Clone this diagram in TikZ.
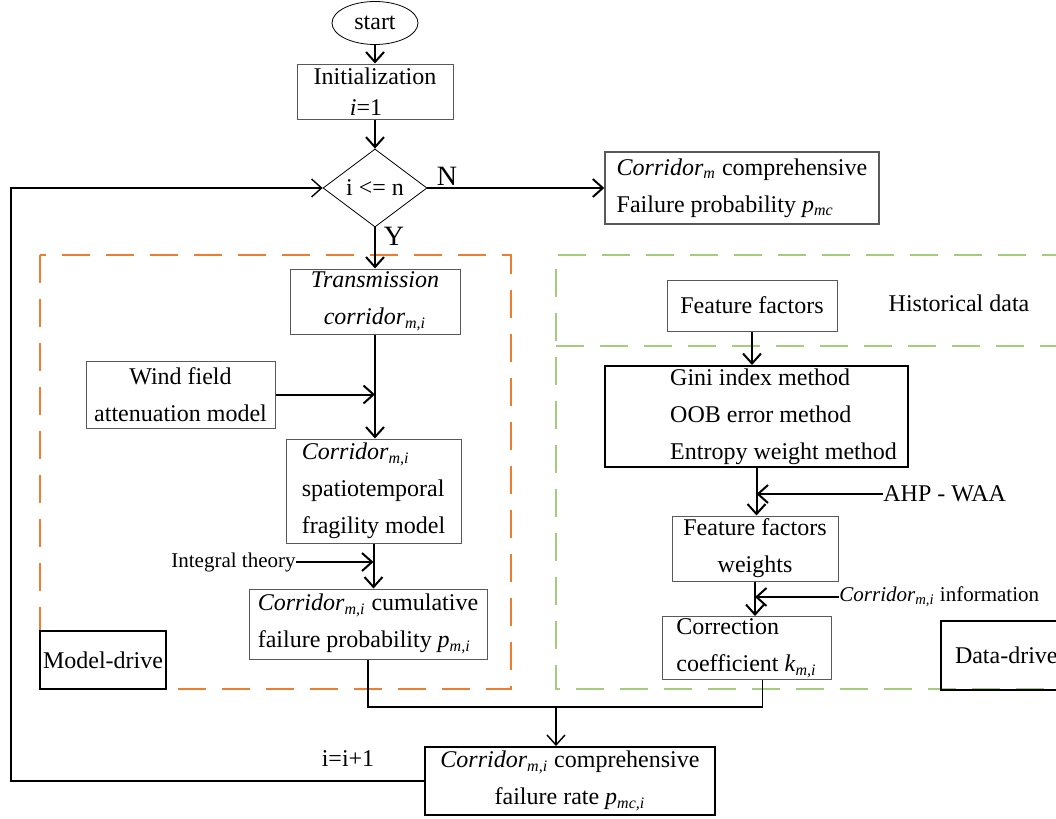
\documentclass[tikz,border=0pt]{standalone}
\usepackage{fontspec}
\setmainfont{Liberation Serif}
\usetikzlibrary{shapes.geometric,arrows.meta}

\definecolor{zoneorange}{RGB}{237,125,49}
\definecolor{zonegreen}{RGB}{165,203,125}

\tikzset{
  box/.style={draw=gray!70!black, line width=0.5pt, inner sep=1pt, align=center},
  boldbox/.style={draw=black, line width=1pt, inner sep=1pt, align=center},
  flow/.style={line width=1pt, -{Straight Barb[length=5pt,width=9pt]}},
  link/.style={line width=0.7pt},
  zone/.style={dash pattern=on 14pt off 8pt, line width=1pt},
  small/.style={inner sep=0pt, font=\fontsize{10.5pt}{12pt}\selectfont},
}

\begin{document}
\begin{tikzpicture}[x=0.5pt,y=-0.5pt,font=\fontsize{12pt}{18.5pt}\selectfont]
\useasboundingbox (0,0) rectangle (1056,819);
\clip (0,0) rectangle (1056,819);

% zones
\draw[zone, zoneorange] (40,255) rectangle (511,689);
\draw[zone, zonegreen] (1070,255) -- (556,255) -- (556,689) -- (1070,689);
\draw[zone, zonegreen] (556,346) -- (1070,346);

% main loop
\node[draw, ellipse, minimum width=43pt, minimum height=21.5pt, inner sep=0pt] (start) at (375,23) {start};
\node[box, minimum width=78pt, minimum height=27.5pt] (init) at (375,91.5) {Initialization\\[-3pt]\hspace*{-9pt}\textit{i}=1};
\node[draw, diamond, aspect=1.33, minimum width=52pt, minimum height=39pt, inner sep=0pt] (cond) at (375,188) {i <= n};
\node[box, line width=0.7pt, minimum width=137pt, minimum height=36pt, align=left] (pmc) at (742,188)
  {\textit{Corridor}\textsubscript{\textit{m}} comprehensive\\Failure probability \textit{p}\textsubscript{\textit{mc}}};
\node[font=\fontsize{14pt}{16pt}\selectfont] (lblN) at (447,176) {N};
\node[font=\fontsize{14pt}{16pt}\selectfont] (lblY) at (394,236) {Y};

% model-drive part
\node[box, minimum width=85pt, minimum height=32.5pt, font=\itshape\fontsize{12pt}{18.5pt}\selectfont] (trans) at (375,301.5)
  {Transmission\\corridor\textsubscript{m,i}};
\node[box, minimum width=94.5pt, minimum height=33.5pt] (wind) at (180.5,394.5) {Wind field\\attenuation model};
\node[box, minimum width=87.5pt, minimum height=52pt, align=left] (spatio) at (373.5,491)
  {\textit{Corridor}\textsubscript{\textit{m,i}}\\spatiotemporal\\fragility model};
\node[small] (integ) at (233.5,562) {Integral theory};
\node[box, minimum width=119pt, minimum height=35pt, align=left] (cum) at (368,624)
  {\textit{Corridor}\textsubscript{\textit{m,i}} cumulative\\failure probability \textit{p}\textsubscript{\textit{m,i}}};
\node[boldbox, minimum width=63pt, minimum height=29pt, inner sep=0pt] (mdrive) at (103,660) {Model-drive};

% data-drive part
\node[box, minimum width=85pt, minimum height=25.5pt] (ff) at (752,305.5) {Feature factors};
\node (hist) at (959,303) {Historical data};
\node[boldbox, minimum width=151.5pt, minimum height=50.5pt, align=left] (gini) at (756.5,416.5)
  {\hspace*{27pt}Gini index method\\\hspace*{27pt}OOB error method\\\hspace*{27pt}Entropy weight method};
\node[inner sep=0pt, anchor=west] (ahp) at (883,494) {AHP - WAA};
\node[box, minimum width=83pt, minimum height=32.5pt] (wts) at (755,548.5) {Feature factors\\weights};
\node[small, anchor=west] (info) at (839,597) {\textit{Corridor}\textsubscript{\textit{m,i}} information};
\node[box, minimum width=84.5pt, minimum height=29pt, align=left] (corr) at (746.5,648)
  {Correction\\coefficient \textit{k}\textsubscript{\textit{m,i}}};
\node[boldbox, anchor=north west, minimum width=70pt, minimum height=34.5pt, text width=60pt, align=left, inner xsep=7pt] (ddrive) at (940,620) {Data-drive};

% result
\node[boldbox, minimum width=145pt, minimum height=34pt] (fin) at (570,781)
  {\textit{Corridor}\textsubscript{\textit{m,i}} comprehensive\\failure rate \textit{p}\textsubscript{\textit{mc,i}}};
\node (incr) at (348,759) {i=i+1};

\draw[flow] (start) -- (init);
\draw[flow] (init) -- (cond);
\draw[flow] (cond) -- (pmc);
\draw[flow] (cond) -- (trans);
\draw[flow] (trans.south) -- (trans.south |- spatio.north);
\draw[flow] (wind.east) -- (wind.east -| trans.south);
\draw[flow] (spatio.south) -- (spatio.south |- cum.north);
\draw[flow] (integ.east) -- (integ.east -| spatio.south);

\draw[flow] (ff.south) -- (ff.south |- gini.north);
\draw[flow] (gini.south) -- (gini.south |- wts.north);
\draw[flow] (ahp.west) -- (ahp.west -| gini.south);
\draw[flow] (wts.south) -- (wts.south |- corr.north);
\draw[flow] (info.west) -- (info.west -| wts.south);

\coordinate (mrg) at (556,707);
\draw[link] (cum.south) |- (mrg) -| ([xshift=8pt]corr.south);
\draw[flow, line width=0.7pt] (mrg) -- (mrg |- fin.north);

\coordinate (back) at (11,500);
\draw[flow, line width=0.7pt] (fin.west) -| (back) |- (cond.west);
\end{tikzpicture}
\end{document}
